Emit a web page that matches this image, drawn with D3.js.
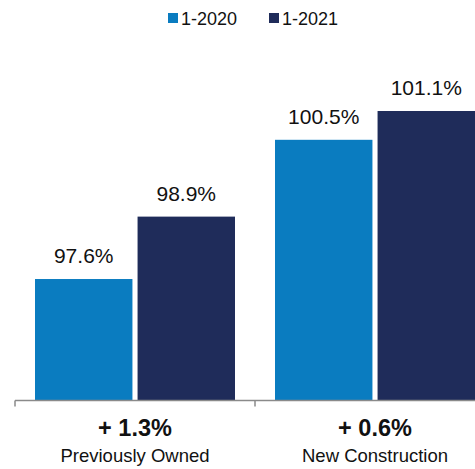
<!DOCTYPE html>
<html>
<head>
<meta charset="utf-8">
<script src="https://cdn.jsdelivr.net/npm/d3@7"></script>
<style>
  html, body { margin: 0; padding: 0; background: #fff; }
  svg { display: block; font-family: "Liberation Sans", Arial, Helvetica, sans-serif; }
</style>
</head>
<body>
<svg id="chart" width="475" height="469"></svg>
<script>
// Sale-to-list price ratio, January of each year
const categories = ["Previously Owned", "New Construction"];
const changeLabels = ["+ 1.3%", "+ 0.6%"];
const seriesNames = ["1-2020", "1-2021"];
const values2020 = [97.6, 100.5];
const values2021 = [98.9, 101.1];
const colors = ["#0a7cc0", "#1f2c5a"];

const svg = d3.select("#chart");
const baseline = 400;

const series = [values2020, values2021];
const rows = categories.map((c, i) => ({
  category: c,
  change: changeLabels[i],
  bars: seriesNames.map((s, j) => ({ series: s, value: series[j][i], color: colors[j] }))
}));

const x0 = d3.scaleBand().domain(categories).range([15, 495]).padding(0);
const x1 = d3.scaleBand().domain(seriesNames)
  .range([20, x0.bandwidth() - 20]).paddingInner(0.05);
const y = d3.scaleLinear().domain([95.08, 101.1]).range([baseline, 111]);

// Bars and value labels
const groups = svg.selectAll("g.group").data(rows).join("g")
  .attr("class", "group")
  .attr("transform", d => `translate(${x0(d.category)},0)`);

groups.selectAll("rect").data(d => d.bars).join("rect")
  .attr("x", d => x1(d.series))
  .attr("y", d => y(d.value))
  .attr("width", x1.bandwidth())
  .attr("height", d => baseline - y(d.value))
  .attr("fill", d => d.color);

groups.selectAll("text.value").data(d => d.bars).join("text")
  .attr("class", "value")
  .attr("x", d => x1(d.series) + x1.bandwidth() / 2)
  .attr("y", d => y(d.value) - 16)
  .attr("text-anchor", "middle")
  .attr("font-size", 21)
  .attr("fill", "#111")
  .text(d => d.value.toFixed(1) + "%");

// Category axis with boundary ticks
const axis = svg.append("g").attr("transform", `translate(0,${baseline + 0.5})`);
axis.append("line")
  .attr("x1", x0.range()[0]).attr("x2", x0.range()[1])
  .attr("stroke", "#8a8a8a").attr("stroke-width", 1.5);
axis.selectAll("line.tick").data(categories).join("line")
  .attr("class", "tick")
  .attr("x1", d => x0(d)).attr("x2", d => x0(d))
  .attr("y1", 0).attr("y2", 6)
  .attr("stroke", "#8a8a8a").attr("stroke-width", 1.5);

const labels = svg.selectAll("g.cat").data(rows).join("g")
  .attr("class", "cat")
  .attr("transform", d => `translate(${x0(d.category) + x0.bandwidth() / 2},0)`);
labels.append("text")
  .attr("y", 436)
  .attr("text-anchor", "middle")
  .attr("font-size", 23.5)
  .attr("font-weight", "bold")
  .attr("fill", "#111")
  .text(d => d.change);
labels.append("text")
  .attr("y", 462)
  .attr("text-anchor", "middle")
  .attr("font-size", 18.5)
  .attr("fill", "#111")
  .text(d => d.category);

// Legend
const legendX = [168, 269];
const legend = svg.selectAll("g.legend").data(seriesNames).join("g")
  .attr("class", "legend")
  .attr("transform", (d, i) => `translate(${legendX[i]},0)`);
legend.append("rect")
  .attr("x", 0).attr("y", 13)
  .attr("width", 10).attr("height", 10)
  .attr("fill", (d, i) => colors[i]);
legend.append("text")
  .attr("x", 13).attr("y", 25)
  .attr("font-size", 18)
  .attr("fill", "#111")
  .text(d => d);
</script>
</body>
</html>
